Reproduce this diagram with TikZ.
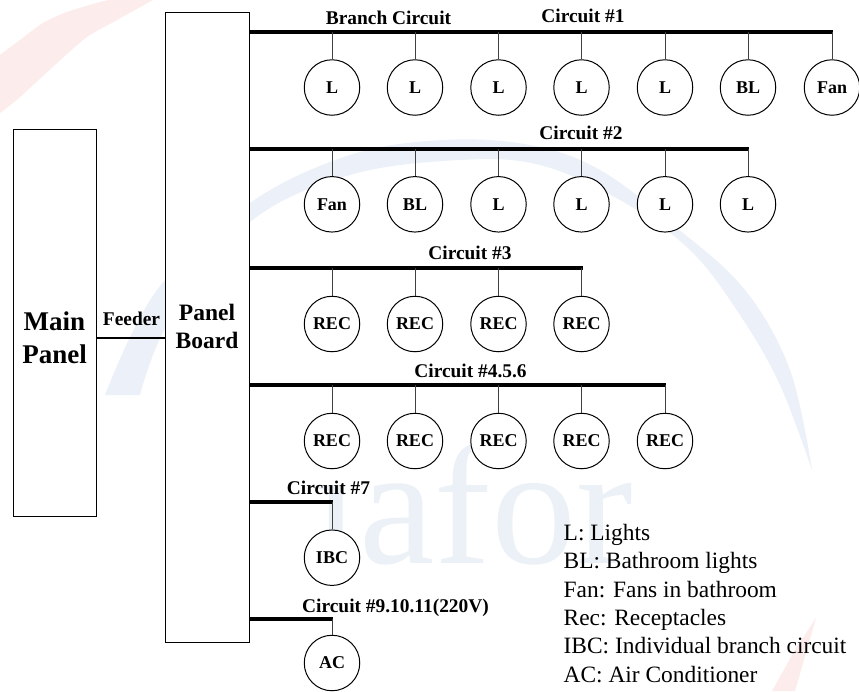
\documentclass[tikz,border=0pt]{standalone}
\usepackage{fontspec}
\setmainfont{Liberation Serif}
\definecolor{wmB}{RGB}{236,240,248}
\definecolor{wmT}{RGB}{236,241,247}
\definecolor{wmR}{RGB}{252,236,236}
\begin{document}
\begin{tikzpicture}[x=1pt,y=-1pt,
  lbl/.style={font=\bfseries\fontsize{19.4}{22}\selectfont,inner sep=0pt,anchor=base},
  load/.style={draw=black,fill=white,line width=1pt,circle,minimum size=55.5pt,inner sep=0pt,font=\bfseries\fontsize{18}{20}\selectfont},
  panel/.style={draw=black,fill=white,line width=1.2pt,inner sep=0pt,anchor=north west},
  bus/.style={line width=4pt},
  drop/.style={line width=0.9pt,black!75},
  legend/.style={font=\fontsize{23.4}{26}\selectfont,anchor=base west,inner sep=0pt}]
\useasboundingbox (0,0) rectangle (859,691);
\fill[white] (0,0) rectangle (859,691);
% faint watermark
\fill[wmR] plot[smooth,tension=0.5] coordinates {(0,55) (20,40) (43,23) (67,12) (100,2) (110,0)}
  -- plot[smooth,tension=0.5] coordinates {(153,0) (117,20) (87,37) (57,63) (20,97) (0,113)} -- cycle;
\fill[wmB] plot[smooth,tension=0.6] coordinates {(105,395) (157,290) (250,203) (350,155) (444,140) (530,145) (600,170) (677,228) (745,290) (790,370) (812,470)}
  -- plot[smooth,tension=0.6] coordinates {(812,470) (780,385) (740,315) (690,250) (620,200) (540,165) (460,160) (350,175) (250,222) (170,320) (140,395)} -- cycle;
\fill[wmR] (816,618) -- (795,691) -- (772,691) -- (795,650) -- cycle;
\node[font=\fontsize{170}{170}\selectfont,text=wmT,anchor=base west,inner sep=0pt] (wm) at (312,563) {iafor};
% panels
\node[panel,minimum width=83pt,minimum height=387pt] (main) at (13,129) {};
\node[font=\bfseries\fontsize{27}{33}\selectfont,align=center,inner sep=0pt] (maint) at (54.5,338) {Main\\Panel};
\node[panel,minimum width=84pt,minimum height=629.5pt] (pb) at (165,12) {};
\node[font=\bfseries\fontsize{23.5}{28}\selectfont,align=center,inner sep=0pt] (pbt) at (207,326) {Panel\\Board};
\coordinate (f1) at (96,338); \coordinate (f2) at (165,338);
\draw[line width=1.6pt] (f1) -- (f2);
\node[lbl] (feeder) at (131.5,325) {Feeder};
% buses
\coordinate (s1) at (249,32);  \coordinate (e1) at (833,32);
\coordinate (s2) at (249,149); \coordinate (e2) at (749,149);
\coordinate (s3) at (249,268); \coordinate (e3) at (583,268);
\coordinate (s4) at (249,385); \coordinate (e4) at (666,385);
\coordinate (s5) at (249,502); \coordinate (e5) at (333,502);
\coordinate (s6) at (249,619); \coordinate (e6) at (333,619);
\foreach \i in {1,...,6} \draw[bus] (s\i) -- (e\i);
% loads
\foreach \n/\x/\t in {a1/332/L,a2/415/L,a3/498.5/L,a4/581.5/L,a5/665/L,a6/748/BL,a7/832/Fan}{
  \node[load] (\n) at (\x,87.5) {\t}; \draw[drop] (\n.north) -- (\n.north |- s1);}
\foreach \n/\x/\t in {b1/332/Fan,b2/415/BL,b3/498.5/L,b4/581.5/L,b5/665/L,b6/748/L}{
  \node[load] (\n) at (\x,204.3) {\t}; \draw[drop] (\n.north) -- (\n.north |- s2);}
\foreach \n/\x/\t in {c1/332/REC,c2/415/REC,c3/498.5/REC,c4/581.5/REC}{
  \node[load] (\n) at (\x,324) {\t}; \draw[drop] (\n.north) -- (\n.north |- s3);}
\foreach \n/\x/\t in {d1/332/REC,d2/415/REC,d3/498.5/REC,d4/581.5/REC,d5/665/REC}{
  \node[load] (\n) at (\x,441) {\t}; \draw[drop] (\n.north) -- (\n.north |- s4);}
\node[load] (ibc) at (332,557.7) {IBC}; \draw[drop] (ibc.north) -- (ibc.north |- s5);
\node[load] (ac) at (332,663) {AC}; \draw[drop] (ac.north) -- (ac.north |- s6);
% circuit labels
\node[lbl] (l0) at (388.5,24) {Branch Circuit};
\node[lbl] (l1) at (583,22.5) {Circuit \#1};
\node[lbl] (l2) at (581,139) {Circuit \#2};
\node[lbl] (l3) at (470,259) {Circuit \#3};
\node[lbl] (l4) at (470.5,377) {Circuit \#4.5.6};
\node[lbl] (l5) at (328.5,494) {Circuit \#7};
\node[lbl] (l6) at (395.5,612.5) {Circuit \#9.10.11(220V)};
% legend
\node[legend] (k1) at (563.5,540) {L: Lights};
\node[legend] (k2) at (563.5,568.5) {BL: Bathroom lights};
\node[legend] (k3) at (563.5,597) {Fan: Fans in bathroom};
\node[legend] (k4) at (563.5,625) {Rec: Receptacles};
\node[legend] (k5) at (563.5,653.5) {IBC: Individual branch circuit};
\node[legend] (k6) at (563.5,682) {AC: Air Conditioner};
\end{tikzpicture}
\end{document}
